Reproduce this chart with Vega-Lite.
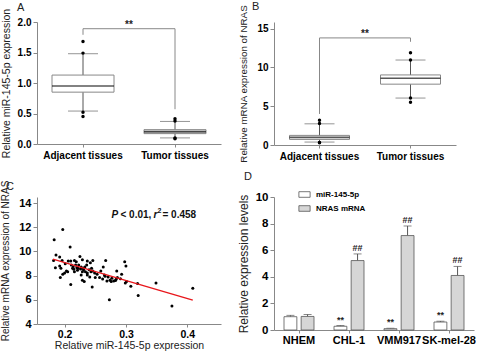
{
  "$schema": "https://vega.github.io/schema/vega-lite/v6.json",
  "padding": {"left": 0, "top": 0, "right": 0, "bottom": 0},
  "bounds": "flush",
  "columns": 2,
  "spacing": {"row": 52, "column": 53},
  "resolve": {"scale": {"fill": "independent"}, "legend": {"fill": "independent"}},
  "datasets": {
    "boxA": [
      {"group": "Adjacent tissues", "lower": 0.54, "q1": 0.85, "median": 0.95, "q3": 1.13, "upper": 1.48},
      {"group": "Tumor tissues", "lower": 0.10, "q1": 0.17, "median": 0.20, "q3": 0.235, "upper": 0.37}
    ],
    "outA": [
      {"group": "Adjacent tissues", "v": 1.68}, {"group": "Adjacent tissues", "v": 1.49},
      {"group": "Adjacent tissues", "v": 0.52}, {"group": "Adjacent tissues", "v": 0.45},
      {"group": "Tumor tissues", "v": 0.415}, {"group": "Tumor tissues", "v": 0.377},
      {"group": "Tumor tissues", "v": 0.085}, {"group": "Tumor tissues", "v": 0.098}
    ],
    "brA": [
      {"group": "Adjacent tissues", "v": 1.79, "k": 1}, {"group": "Adjacent tissues", "v": 1.89, "k": 2},
      {"group": "Tumor tissues", "v": 1.89, "k": 3}, {"group": "Tumor tissues", "v": 0.57, "k": 4}
    ],
    "sigA": [{"group": "Adjacent tissues", "v": 1.95, "label": "**"}],
    "boxB": [
      {"group": "Adjacent tissues", "lower": 0.38, "q1": 0.72, "median": 0.98, "q3": 1.24, "upper": 2.73},
      {"group": "Tumor tissues", "lower": 6.05, "q1": 7.84, "median": 8.6, "q3": 9.03, "upper": 10.95}
    ],
    "outB": [
      {"group": "Adjacent tissues", "v": 3.2}, {"group": "Adjacent tissues", "v": 2.77},
      {"group": "Adjacent tissues", "v": 0.34}, {"group": "Adjacent tissues", "v": 0.30},
      {"group": "Tumor tissues", "v": 11.9}, {"group": "Tumor tissues", "v": 10.95},
      {"group": "Tumor tissues", "v": 6.05}, {"group": "Tumor tissues", "v": 5.5}
    ],
    "brB": [
      {"group": "Adjacent tissues", "v": 4.0, "k": 1}, {"group": "Adjacent tissues", "v": 13.8, "k": 2},
      {"group": "Tumor tissues", "v": 13.8, "k": 3}, {"group": "Tumor tissues", "v": 13.3, "k": 4}
    ],
    "sigB": [{"group": "Adjacent tissues", "v": 14.35, "label": "**"}],
    "scatter": [
      {"x": 0.183, "y": 10.96}, {"x": 0.197, "y": 11.81}, {"x": 0.209, "y": 10.36}, {"x": 0.186, "y": 9.70},
      {"x": 0.192, "y": 9.53}, {"x": 0.182, "y": 9.26}, {"x": 0.196, "y": 9.26}, {"x": 0.206, "y": 9.21},
      {"x": 0.210, "y": 9.21}, {"x": 0.216, "y": 9.26}, {"x": 0.225, "y": 9.59}, {"x": 0.229, "y": 9.32},
      {"x": 0.237, "y": 9.21}, {"x": 0.242, "y": 9.07}, {"x": 0.246, "y": 9.26}, {"x": 0.267, "y": 9.26},
      {"x": 0.298, "y": 9.15}, {"x": 0.300, "y": 8.79}, {"x": 0.185, "y": 8.66}, {"x": 0.192, "y": 8.79},
      {"x": 0.194, "y": 8.60}, {"x": 0.200, "y": 8.22}, {"x": 0.197, "y": 8.11}, {"x": 0.193, "y": 7.84},
      {"x": 0.211, "y": 8.88}, {"x": 0.214, "y": 8.71}, {"x": 0.218, "y": 8.88}, {"x": 0.220, "y": 8.66},
      {"x": 0.223, "y": 8.88}, {"x": 0.227, "y": 8.71}, {"x": 0.230, "y": 8.60}, {"x": 0.233, "y": 8.71},
      {"x": 0.215, "y": 8.52}, {"x": 0.221, "y": 8.44}, {"x": 0.229, "y": 8.33}, {"x": 0.231, "y": 8.49},
      {"x": 0.234, "y": 8.33}, {"x": 0.237, "y": 8.22}, {"x": 0.240, "y": 8.49}, {"x": 0.243, "y": 8.33},
      {"x": 0.246, "y": 8.38}, {"x": 0.249, "y": 8.22}, {"x": 0.253, "y": 8.11}, {"x": 0.227, "y": 8.05},
      {"x": 0.237, "y": 8.05}, {"x": 0.241, "y": 7.89}, {"x": 0.232, "y": 7.51}, {"x": 0.250, "y": 7.84},
      {"x": 0.229, "y": 7.62}, {"x": 0.210, "y": 7.27}, {"x": 0.245, "y": 7.05}, {"x": 0.263, "y": 8.71},
      {"x": 0.265, "y": 8.05}, {"x": 0.271, "y": 7.89}, {"x": 0.274, "y": 7.62}, {"x": 0.276, "y": 7.51},
      {"x": 0.269, "y": 7.56}, {"x": 0.285, "y": 8.38}, {"x": 0.286, "y": 7.84}, {"x": 0.284, "y": 7.70},
      {"x": 0.293, "y": 8.11}, {"x": 0.299, "y": 7.40}, {"x": 0.301, "y": 7.51}, {"x": 0.308, "y": 7.12},
      {"x": 0.319, "y": 7.34}, {"x": 0.320, "y": 6.36}, {"x": 0.273, "y": 6.00}, {"x": 0.349, "y": 7.40},
      {"x": 0.375, "y": 5.48}, {"x": 0.409, "y": 6.96}, {"x": 0.236, "y": 8.88}, {"x": 0.257, "y": 7.84},
      {"x": 0.262, "y": 7.73}, {"x": 0.219, "y": 9.15}, {"x": 0.205, "y": 8.33}, {"x": 0.203, "y": 8.38},
      {"x": 0.216, "y": 8.33}, {"x": 0.201, "y": 8.99}, {"x": 0.259, "y": 8.38}, {"x": 0.277, "y": 7.78},
      {"x": 0.266, "y": 7.95}, {"x": 0.222, "y": 8.60}, {"x": 0.226, "y": 8.55}, {"x": 0.244, "y": 8.60},
      {"x": 0.213, "y": 8.60}, {"x": 0.283, "y": 7.60}, {"x": 0.280, "y": 7.55}, {"x": 0.291, "y": 7.75}
    ],
    "fit": [{"x": 0.181, "y": 9.37}, {"x": 0.409, "y": 5.97}],
    "cells": [
      {"cell": "NHEM", "series": "miR-145-5p", "value": 1.0, "hi": 1.1, "sig": ""},
      {"cell": "NHEM", "series": "NRAS mRNA", "value": 1.02, "hi": 1.17, "sig": ""},
      {"cell": "CHL-1", "series": "miR-145-5p", "value": 0.28, "hi": 0.33, "sig": "**"},
      {"cell": "CHL-1", "series": "NRAS mRNA", "value": 5.22, "hi": 5.72, "sig": "##"},
      {"cell": "VMM917", "series": "miR-145-5p", "value": 0.1, "hi": 0.13, "sig": "**"},
      {"cell": "VMM917", "series": "NRAS mRNA", "value": 7.1, "hi": 7.82, "sig": "##"},
      {"cell": "SK-mel-28", "series": "miR-145-5p", "value": 0.6, "hi": 0.66, "sig": "**"},
      {"cell": "SK-mel-28", "series": "NRAS mRNA", "value": 4.1, "hi": 4.78, "sig": "##"}
    ]
  },
  "concat": [
    {
      "width": 184, "height": 122,
      "title": {"text": "A", "dx": -20, "offset": 0, "dy": 4.5},
      "encoding": {
        "x": {"field": "group", "type": "nominal", "title": null,
          "scale": {"domain": ["Adjacent tissues", "Tumor tissues"], "paddingInner": 0, "paddingOuter": 0},
          "axis": {"labelAngle": 0, "labelFontSize": 10, "bandPosition": 0.5, "tickSize": 3, "labelPadding": 3, "labelOverlap": false}}
      },
      "layer": [
        {"data": {"name": "boxA"}, "mark": {"type": "rule", "color": "#555"},
          "encoding": {"y": {"field": "lower", "type": "quantitative", "scale": {"domain": [0, 2]},
            "axis": {"values": [0, 0.5, 1, 1.5, 2], "tickCount": 20, "format": ".1f", "labelFontSize": 10, "titleFontSize": 10.5, "titlePadding": 6, "labelOverlap": false},
            "title": "Relative miR-145-5p expression"}, "y2": {"field": "upper"}}},
        {"data": {"name": "boxA"}, "mark": {"type": "bar", "width": 62, "stroke": "#888", "strokeWidth": 1},
          "encoding": {"y": {"field": "q1", "type": "quantitative"}, "y2": {"field": "q3"},
            "fill": {"condition": {"test": "datum.group === 'Tumor tissues'", "value": "#c4c4c4"}, "value": "#ffffff"}}},
        {"data": {"name": "boxA"}, "mark": {"type": "tick", "size": 62, "thickness": 1.6, "color": "#111"},
          "encoding": {"y": {"field": "median", "type": "quantitative"}}},
        {"data": {"name": "boxA"}, "mark": {"type": "tick", "size": 30, "thickness": 1, "color": "#666"},
          "encoding": {"y": {"field": "upper", "type": "quantitative"}}},
        {"data": {"name": "boxA"}, "mark": {"type": "tick", "size": 30, "thickness": 1, "color": "#666"},
          "encoding": {"y": {"field": "lower", "type": "quantitative"}}},
        {"data": {"name": "outA"}, "mark": {"type": "point", "filled": true, "color": "#000", "size": 12, "opacity": 1},
          "encoding": {"y": {"field": "v", "type": "quantitative"}}},
        {"data": {"name": "brA"}, "mark": {"type": "line", "color": "#888", "strokeWidth": 1},
          "encoding": {"y": {"field": "v", "type": "quantitative"}, "order": {"field": "k"}}},
        {"data": {"name": "sigA"}, "mark": {"type": "text", "fontSize": 10, "fontWeight": "bold", "baseline": "middle", "color": "#222"},
          "encoding": {"x": {"field": "group", "type": "nominal", "bandPosition": 1}, "y": {"field": "v", "type": "quantitative"}, "text": {"field": "label"}}}
      ]
    },
    {
      "width": 182, "height": 123,
      "title": {"text": "B", "dx": -22, "offset": 0, "dy": 7},
      "encoding": {
        "x": {"field": "group", "type": "nominal", "title": null,
          "scale": {"domain": ["Adjacent tissues", "Tumor tissues"], "paddingInner": 0, "paddingOuter": 0},
          "axis": {"labelAngle": 0, "labelFontSize": 10, "bandPosition": 0.5, "tickSize": 3, "labelPadding": 3, "labelOverlap": false}}
      },
      "layer": [
        {"data": {"name": "boxB"}, "mark": {"type": "rule", "color": "#555"},
          "encoding": {"y": {"field": "lower", "type": "quantitative", "scale": {"domain": [0, 15.85], "nice": false},
            "axis": {"values": [0, 5, 10, 15], "tickCount": 20, "format": "d", "labelFontSize": 10, "titleFontSize": 9.8, "titlePadding": 8, "labelOverlap": false},
            "title": "Relative mRNA expression of NRAS"}, "y2": {"field": "upper"}}},
        {"data": {"name": "boxB"}, "mark": {"type": "bar", "width": 60, "stroke": "#888", "strokeWidth": 1, "fill": "#ffffff"},
          "encoding": {"y": {"field": "q1", "type": "quantitative"}, "y2": {"field": "q3"}}},
        {"data": {"name": "boxB"}, "mark": {"type": "tick", "size": 60, "thickness": 1.6, "color": "#111"},
          "encoding": {"y": {"field": "median", "type": "quantitative"}}},
        {"data": {"name": "boxB"}, "mark": {"type": "tick", "size": 30, "thickness": 1, "color": "#666"},
          "encoding": {"y": {"field": "upper", "type": "quantitative"}}},
        {"data": {"name": "boxB"}, "mark": {"type": "tick", "size": 30, "thickness": 1, "color": "#666"},
          "encoding": {"y": {"field": "lower", "type": "quantitative"}}},
        {"data": {"name": "outB"}, "mark": {"type": "point", "filled": true, "color": "#000", "size": 12, "opacity": 1},
          "encoding": {"y": {"field": "v", "type": "quantitative"}}},
        {"data": {"name": "brB"}, "mark": {"type": "line", "color": "#888", "strokeWidth": 1},
          "encoding": {"y": {"field": "v", "type": "quantitative"}, "order": {"field": "k"}}},
        {"data": {"name": "sigB"}, "mark": {"type": "text", "fontSize": 10, "fontWeight": "bold", "baseline": "middle", "color": "#222"},
          "encoding": {"x": {"field": "group", "type": "nominal", "bandPosition": 1}, "y": {"field": "v", "type": "quantitative"}, "text": {"field": "label"}}}
      ]
    },
    {
      "width": 184, "height": 127,
      "title": {"text": "C", "dx": -31, "offset": 0, "dy": 12},
      "layer": [
        {"data": {"name": "scatter"}, "mark": {"type": "point", "filled": true, "color": "#000", "size": 9, "opacity": 1},
          "encoding": {
            "x": {"field": "x", "type": "quantitative", "scale": {"domain": [0.155, 0.455], "nice": false, "zero": false},
              "axis": {"values": [0.2, 0.3, 0.4], "tickCount": 20, "format": ".1f", "labelFontSize": 10.5, "titleFontSize": 10.5, "titlePadding": 1, "tickSize": 3, "labelOverlap": false},
              "title": "Relative miR-145-5p expression"},
            "y": {"field": "y", "type": "quantitative", "scale": {"domain": [4, 14.5], "nice": false, "zero": false},
              "axis": {"values": [4, 6, 8, 10, 12, 14], "tickCount": 20, "format": "d", "labelFontSize": 11, "titleFontSize": 10, "titlePadding": 8, "labelOverlap": false},
              "title": "Relative mRNA expression of NRAS"}}},
        {"data": {"name": "fit"}, "mark": {"type": "line", "color": "#e8161b", "strokeWidth": 1.3},
          "encoding": {"x": {"field": "x", "type": "quantitative"}, "y": {"field": "y", "type": "quantitative"}}},
        {"data": {"values": [{"x": 0.2764, "y": 13.0}]}, "mark": {"type": "text", "text": "P", "fontStyle": "italic", "fontWeight": "bold", "fontSize": 10, "align": "left", "baseline": "middle", "color": "#111"},
          "encoding": {"x": {"field": "x", "type": "quantitative"}, "y": {"field": "y", "type": "quantitative"}}},
        {"data": {"values": [{"x": 0.2764, "y": 13.0}]}, "mark": {"type": "text", "text": "< 0.01,", "fontWeight": "bold", "fontSize": 10, "align": "left", "baseline": "middle", "dx": 9, "color": "#111"},
          "encoding": {"x": {"field": "x", "type": "quantitative"}, "y": {"field": "y", "type": "quantitative"}}},
        {"data": {"values": [{"x": 0.2764, "y": 13.0}]}, "mark": {"type": "text", "text": "r", "fontStyle": "italic", "fontWeight": "bold", "fontSize": 10, "align": "left", "baseline": "middle", "dx": 42, "color": "#111"},
          "encoding": {"x": {"field": "x", "type": "quantitative"}, "y": {"field": "y", "type": "quantitative"}}},
        {"data": {"values": [{"x": 0.2764, "y": 13.0}]}, "mark": {"type": "text", "text": "2", "fontWeight": "bold", "fontSize": 7, "align": "left", "baseline": "middle", "dx": 46, "dy": -4, "color": "#111"},
          "encoding": {"x": {"field": "x", "type": "quantitative"}, "y": {"field": "y", "type": "quantitative"}}},
        {"data": {"values": [{"x": 0.2764, "y": 13.0}]}, "mark": {"type": "text", "text": "= 0.458", "fontWeight": "bold", "fontSize": 10, "align": "left", "baseline": "middle", "dx": 51, "color": "#111"},
          "encoding": {"x": {"field": "x", "type": "quantitative"}, "y": {"field": "y", "type": "quantitative"}}}
      ]
    },
    {
      "width": 200, "height": 133,
      "title": {"text": "D", "dx": -30, "offset": 0, "dy": -6},
      "data": {"name": "cells"},
      "encoding": {
        "x": {"field": "cell", "type": "nominal", "title": null,
          "scale": {"domain": ["NHEM", "CHL-1", "VMM917", "SK-mel-28"], "paddingInner": 0.4, "paddingOuter": 0.2},
          "axis": {"labelAngle": 0, "labelFontSize": 11, "bandPosition": 0.5, "tickSize": 3, "labelOverlap": false, "labelPadding": 1}},
        "xOffset": {"field": "series", "type": "nominal", "scale": {"domain": ["miR-145-5p", "NRAS mRNA"], "paddingInner": 0.25}}
      },
      "layer": [
        {"mark": {"type": "rule", "color": "#555"},
          "encoding": {"y": {"field": "value", "type": "quantitative", "scale": {"domain": [0, 10]},
            "axis": {"values": [0, 2, 4, 6, 8, 10], "tickCount": 20, "format": "d", "labelFontSize": 11.5, "titleFontSize": 12, "titlePadding": 5, "labelOverlap": false},
            "title": "Relative expression levels"}, "y2": {"field": "hi"}}},
        {"mark": {"type": "tick", "size": 8, "thickness": 1, "color": "#555"},
          "encoding": {"y": {"field": "hi", "type": "quantitative"}}},
        {"mark": {"type": "bar", "stroke": "#555", "strokeWidth": 0.8},
          "encoding": {"y": {"field": "value", "type": "quantitative"},
            "fill": {"field": "series", "type": "nominal",
              "scale": {"domain": ["miR-145-5p", "NRAS mRNA"], "range": ["#ffffff", "#d6d6d6"]},
              "legend": {"orient": "none", "legendX": 24, "legendY": -9, "title": null,
                "symbolType": "M-1,-0.5H1V0.5H-1Z", "symbolSize": 126, "symbolStrokeColor": "#555", "symbolStrokeWidth": 0.8,
                "labelFontSize": 8, "labelFontWeight": "bold", "rowPadding": 3, "labelOffset": 5}}}},
        {"mark": {"type": "text", "fontSize": 9, "fontWeight": "bold", "baseline": "bottom", "dy": -1, "color": "#222"},
          "encoding": {"y": {"field": "hi", "type": "quantitative"}, "text": {"field": "sig"}}}
      ]
    }
  ],
  "config": {
    "view": {"stroke": null},
    "font": "Liberation Sans",
    "axis": {"domainColor": "#888", "tickColor": "#888", "labelColor": "#000", "labelFontWeight": "bold",
      "labelFont": "Liberation Sans", "titleFont": "Liberation Sans", "titleFontWeight": "normal", "titleColor": "#222",
      "grid": false, "tickSize": 4, "labelOverlap": false},
    "title": {"anchor": "start", "fontWeight": "normal", "fontSize": 11, "frame": "group", "color": "#222", "font": "Liberation Sans"},
    "legend": {"labelFont": "Liberation Sans"}
  }
}
